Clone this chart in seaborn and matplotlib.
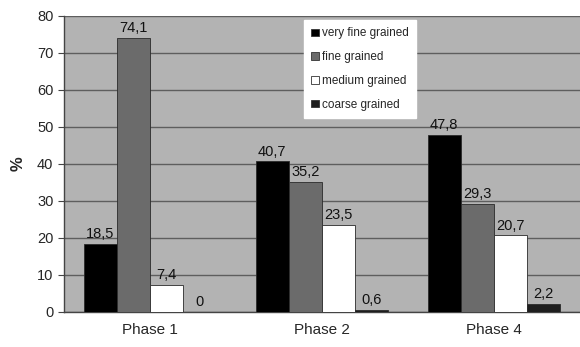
import matplotlib
matplotlib.use("Agg")
import matplotlib.pyplot as plt
import seaborn as sns
import pandas as pd
from matplotlib.patches import Patch

phases = ["Phase 1", "Phase 2", "Phase 4"]
grain_classes = ["very fine grained", "fine grained", "medium grained", "coarse grained"]
very_fine = [18.5, 40.7, 47.8]
fine = [74.1, 35.2, 29.3]
medium = [7.4, 23.5, 20.7]
coarse = [0.0, 0.6, 2.2]
y_ticks = [0, 10, 20, 30, 40, 50, 60, 70, 80]

colors = ["#000000", "#6b6b6b", "#ffffff", "#1e1e1e"]

rows = []
for cls, vals in zip(grain_classes, [very_fine, fine, medium, coarse]):
    for ph, v in zip(phases, vals):
        rows.append({"phase": ph, "grain": cls, "value": v})
df = pd.DataFrame(rows)

sns.set_style("white")
plt.rcParams["font.family"] = ["Liberation Sans", "DejaVu Sans"]

fig = plt.figure(figsize=(5.8, 3.47), dpi=100)
ax = fig.add_axes([0.110, 0.101, 0.890, 0.853])
ax.set_facecolor("#b3b3b3")

sns.barplot(data=df, x="phase", y="value", hue="grain", order=phases,
            hue_order=grain_classes, palette=colors, width=0.77,
            edgecolor="#2a2a2a", linewidth=0.6, saturation=1, ax=ax,
            legend=False, zorder=3)

ax.set_ylim(0, 80)
ax.set_xlim(-0.5, 2.5)
ax.set_yticks(y_ticks)
ax.yaxis.grid(True, color="#5e5e5e", linewidth=1.0, zorder=0)
ax.set_axisbelow(True)

for container in ax.containers:
    labels = [f"{v:.1f}".replace(".", ",") if v != 0 else "0"
              for v in container.datavalues]
    ax.bar_label(container, labels=labels, padding=2, fontsize=10.5,
                 color="#111111")

ax.set_xlabel("")
ax.set_ylabel("%", fontsize=12, fontweight="bold", labelpad=8)
ax.tick_params(axis="y", labelsize=10.5, length=4, color="#444444", direction="out",
               left=True)
ax.tick_params(axis="x", labelsize=11, length=0, pad=8)
ax.set_xticks([0, 1, 2])
ax.set_xticklabels(phases)
# category separators along the x axis
ax.set_xticks([-0.5, 0.5, 1.5, 2.5], minor=True)
ax.tick_params(axis="x", which="minor", length=5, color="#444444", direction="out")

for side in ["top", "right"]:
    ax.spines[side].set_visible(False)
for side in ["left", "bottom"]:
    ax.spines[side].set_color("#444444")
    ax.spines[side].set_linewidth(1.0)

handles = [Patch(facecolor=c, edgecolor="#333333", linewidth=0.6) for c in colors]
leg = ax.legend(handles, grain_classes, loc="upper left",
                bbox_to_anchor=(0.466, 0.985), frameon=True, fontsize=8.5,
                handlelength=0.6, handleheight=0.6, handletextpad=0.3,
                labelspacing=1.0, borderpad=0.6, borderaxespad=0.0,
                fancybox=False)
leg.get_frame().set_facecolor("white")
leg.get_frame().set_edgecolor("white")
leg.get_frame().set_alpha(1)

fig.savefig("out.png", dpi=100)
